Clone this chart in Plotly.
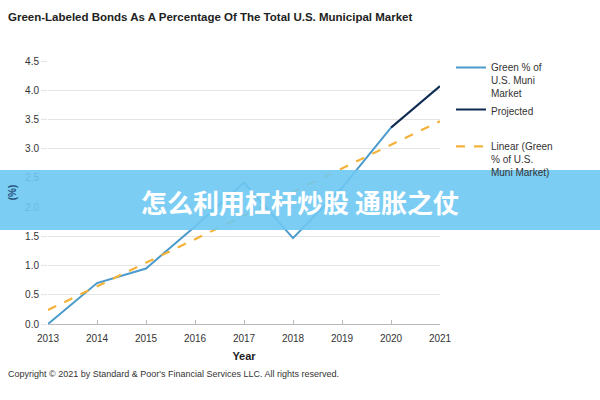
import plotly.graph_objects as go

years = [2013, 2014, 2015, 2016, 2017, 2018, 2019, 2020]
green_pct = [0.0, 0.70, 0.95, 1.67, 2.42, 1.47, 2.33, 3.36]
proj_years = [2020, 2021]
proj_pct = [3.36, 4.07]
trend_years = [2013, 2021]
trend_pct = [0.24, 3.47]
x_ticks = [2013, 2014, 2015, 2016, 2017, 2018, 2019, 2020, 2021]
y_ticks = [0.0, 0.5, 1.0, 1.5, 2.0, 2.5, 3.0, 3.5, 4.0, 4.5]

FONT = "Liberation Sans, Arial, sans-serif"

fig = go.Figure()
fig.add_trace(go.Scatter(x=years, y=green_pct, mode="lines",
                         line=dict(color="#4A9ACB", width=2),
                         name="Green % of<br>U.S. Muni<br>Market", legendgroup="a"))
fig.add_trace(go.Scatter(x=proj_years, y=proj_pct, mode="lines",
                         line=dict(color="#0D2B52", width=2),
                         name="Projected", legendgroup="a"))
fig.add_trace(go.Scatter(x=trend_years, y=trend_pct, mode="lines",
                         line=dict(color="#F4B23A", width=2.2, dash="dash"),
                         name="Linear (Green<br>% of U.S.<br>Muni Market)", legendgroup="b"))

fig.update_layout(
    width=600, height=400,
    margin=dict(l=48, r=160, t=61, b=76),
    paper_bgcolor="white", plot_bgcolor="white",
    font=dict(family=FONT, size=10, color="#333333"),
    showlegend=True,
    legend=dict(x=1.028, y=1.025, xanchor="left", yanchor="top",
                valign="top", traceorder="grouped", tracegroupgap=18,
                font=dict(family=FONT, size=10, color="#333333"),
                itemwidth=30, bgcolor="rgba(0,0,0,0)"),
    xaxis=dict(range=[2013, 2021], tickvals=x_ticks, showgrid=False,
               showline=True, linecolor="#BBBBBB", ticks="inside", ticklen=4,
               tickcolor="#BBBBBB", tickfont=dict(size=10, color="#333333"),
               ticklabelstandoff=5,
               title=dict(text="<b>Year</b>", font=dict(size=11, color="#222222"), standoff=9),
               zeroline=False, automargin=False),
    yaxis=dict(range=[0, 4.5], tickvals=y_ticks, tickformat=".1f",
               showgrid=True, gridcolor="#E4E4E4", gridwidth=1,
               ticks="outside", ticklen=6, tickcolor="#E4E4E4",
               tickfont=dict(size=10, color="#333333"), zeroline=False,
               title=dict(text="<b>(%)</b>", font=dict(size=10, color="#1F4E79"), standoff=6),
               automargin=False),
)

fig.add_annotation(text="<b>Green-Labeled Bonds As A Percentage Of The Total U.S. Municipal Market</b>",
                   xref="paper", yref="paper", x=-42/392, y=1 + (61-17)/263,
                   xanchor="left", yanchor="middle", showarrow=False,
                   font=dict(family=FONT, size=11.5, color="#222222"))
fig.add_annotation(text="Copyright © 2021 by Standard &amp; Poor's Financial Services LLC. All rights reserved.",
                   xref="paper", yref="paper", x=-42/392, y=-(374-324)/263,
                   xanchor="left", yanchor="middle", showarrow=False,
                   font=dict(family=FONT, size=9, color="#333333"))

# overlay banner
fig.add_shape(type="rect", xref="paper", yref="paper",
              x0=-48/392, x1=1 + 160/392, y0=(324-230)/263, y1=(324-170)/263,
              fillcolor="rgba(110,200,242,0.9)", line=dict(width=0), layer="above")
fig.add_annotation(text="<b>怎么利用杠杆炒股 通胀之仗</b>",
                   xref="paper", yref="paper", x=(300-48)/392, y=(324-201)/263,
                   xanchor="center", yanchor="middle", showarrow=False,
                   font=dict(family="Noto Sans CJK SC", size=26, color="white"))

fig.write_html("out.html", config={"displayModeBar": False},
               post_script="document.body.style.margin='0';document.body.style.overflow='hidden';")
